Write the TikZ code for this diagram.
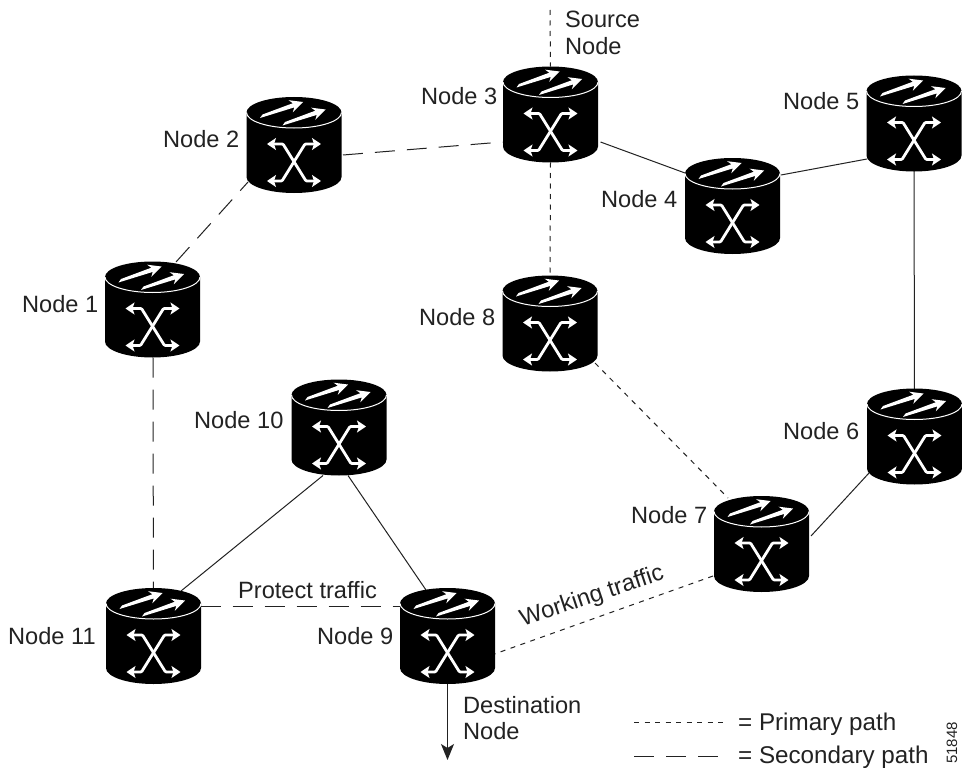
\documentclass[tikz,border=0pt]{standalone}
\usepackage{fontspec}
\setmainfont{Liberation Sans}
\usetikzlibrary{arrows.meta,calc}
\definecolor{ink}{HTML}{222222}
\tikzset{
  x=1pt,y=-1pt,
  lab/.style={anchor=base west,inner sep=0pt,text=ink,font=\fontsize{23.6}{26}\selectfont,align=left},
  legend/.style={lab,font=\fontsize{24.2}{26}\selectfont},
  box/.style={rectangle,minimum width=95pt,minimum height=96pt,inner sep=0pt,outer sep=0pt},
  primary/.style={line width=1pt,ink,dash pattern=on 5pt off 5.5pt},
  secondary/.style={line width=1pt,ink,dash pattern=on 20pt off 12pt},
  solidlink/.style={line width=1pt,ink},
  xarm/.style={white,line width=2.8pt,{Stealth[length=9pt,width=12pt,inset=2pt]}-{Stealth[length=9pt,width=12pt,inset=2pt]},rounded corners=1pt},
  flowshape/.pic={
    \fill[white] (-34,-27) -- (-31.5,-30.5) -- (-1.18,-41.8) -- (-5.4,-44.8) -- (9,-43) -- (-1.2,-32.6) -- (0.28,-37.6) -- cycle;
  },
  router/.pic={
    \fill[black] (-47.5,-32.5) arc[start angle=180,end angle=360,x radius=47.5,y radius=15.5]
       -- (47.5,32) arc[start angle=0,end angle=180,x radius=47.5,y radius=16] -- cycle;
    \draw[white,line width=1pt] (-47.5,-32.5) arc[start angle=180,end angle=0,x radius=47.5,y radius=15.5];
    \pic at (0,0) {flowshape};
    \pic at (22.5,7.5) {flowshape};
    \draw[xarm] (-27,-1) -- (-11,-1) -- (12,36) -- (27,36);
    \draw[xarm] (27,-1) -- (11,-1) -- (-12,36) -- (-27,36);
  }
}
\begin{document}
\begin{tikzpicture}
\fill[white] (0,0) rectangle (962,768);
\useasboundingbox (0,0) rectangle (962,768);
% nodes
\node[box] (n1) at (152.5,309.5) {};
\node[box] (n2) at (294,145) {};
\node[box] (n3) at (550.5,114.5) {};
\node[box] (n4) at (732.5,206) {};
\node[box] (n5) at (914,123.5) {};
\node[box] (n6) at (914.5,436.5) {};
\node[box] (n7) at (761.5,544) {};
\node[box] (n8) at (550,323.5) {};
\node[box] (n9) at (447.5,636) {};
\node[box] (n10) at (339,427.5) {};
\node[box] (n11) at (153.5,636) {};
\coordinate (srcend) at (550,10);
\coordinate (dstend) at (447.5,760);
\coordinate (l1a) at (634,722);
\coordinate (l1b) at (725,722);
\coordinate (l2a) at (634,756);
\coordinate (l2b) at (725,756);
% connectors
\draw[primary] (srcend) -- (n3.north);
\draw[primary] (n3.south) -- (n8.north);
\draw[secondary] ([shift={(49,10)}]n2.center) -- ([shift={(-48,27.5)}]n3.center);
\draw[secondary] ([shift={(23.5,-47.5)}]n1.center) -- ([shift={(-46,37)}]n2.center);
\draw[solidlink] ([shift={(50,27.5)}]n3.center) -- ([shift={(-47.5,-33)}]n4.center);
\draw[solidlink] ([shift={(48.5,-31)}]n4.center) -- ([shift={(-47,35.5)}]n5.center);
\draw[solidlink] (n5.center) -- (n6.center);
\draw[solidlink] ([shift={(-45.5,36.5)}]n6.center) -- ([shift={(49.5,-8)}]n7.center);
\draw[primary] ([shift={(45,39.5)}]n8.center) -- ([shift={(-33.5,-46)}]n7.center);
\draw[primary] ([shift={(-48.5,32)}]n7.center) -- ([shift={(47,18)}]n9.center);
\draw[secondary] ([shift={(0.5,48)}]n1.center) -- (n11.center);
\draw[secondary] ([shift={(47,-30)}]n11.center) -- ([shift={(-47,-30)}]n9.center);
\draw[solidlink] ([shift={(-16,48)}]n10.center) -- ([shift={(27.5,-45)}]n11.center);
\draw[solidlink] ([shift={(9,48)}]n10.center) -- ([shift={(-21.5,-46)}]n9.center);
\draw[ink,line width=1.2pt,-{Stealth[length=16pt,width=13pt,inset=4pt]}] (n9.center) -- (dstend);
\draw[primary] (l1a) -- (l1b);
\draw[secondary] (l2a) -- (l2b);
% icons
\foreach \n in {n1,n2,n3,n4,n5,n6,n7,n8,n9,n10,n11} \pic at (\n) {router};
% labels
\node[lab] (t1) at (22,312) {Node 1};
\node[lab] (t2) at (163,147) {Node 2};
\node[lab] (t3) at (421,104) {Node 3};
\node[lab] (t4) at (601,207) {Node 4};
\node[lab] (t5) at (783,110) {Node 5};
\node[lab] (t6) at (783,439) {Node 6};
\node[lab] (t7) at (631,523) {Node 7};
\node[lab] (t8) at (419,325) {Node 8};
\node[lab] (t9) at (317,644) {Node 9};
\node[lab] (t10) at (194,428) {Node 10};
\node[lab] (t11) at (8,644) {Node 11};
\node[lab] (s1) at (565,28) {Source};
\node[lab] (s2) at (565,55) {Node};
\node[lab] (d1) at (463,713) {Destination};
\node[lab] (d2) at (463,739) {Node};
\node[lab] (pt) at (238,598) {Protect traffic};
\node[lab,anchor=center,rotate=18.5] (wt) at (592,597) {Working traffic};
\node[legend] (lg1) at (738,730) {= Primary path};
\node[legend] (lg2) at (738,763) {= Secondary path};
\node[anchor=center,inner sep=0pt,rotate=90,text=ink,font=\fontsize{15}{17}\selectfont] (num) at (952,743) {51848};
\end{tikzpicture}
\end{document}
